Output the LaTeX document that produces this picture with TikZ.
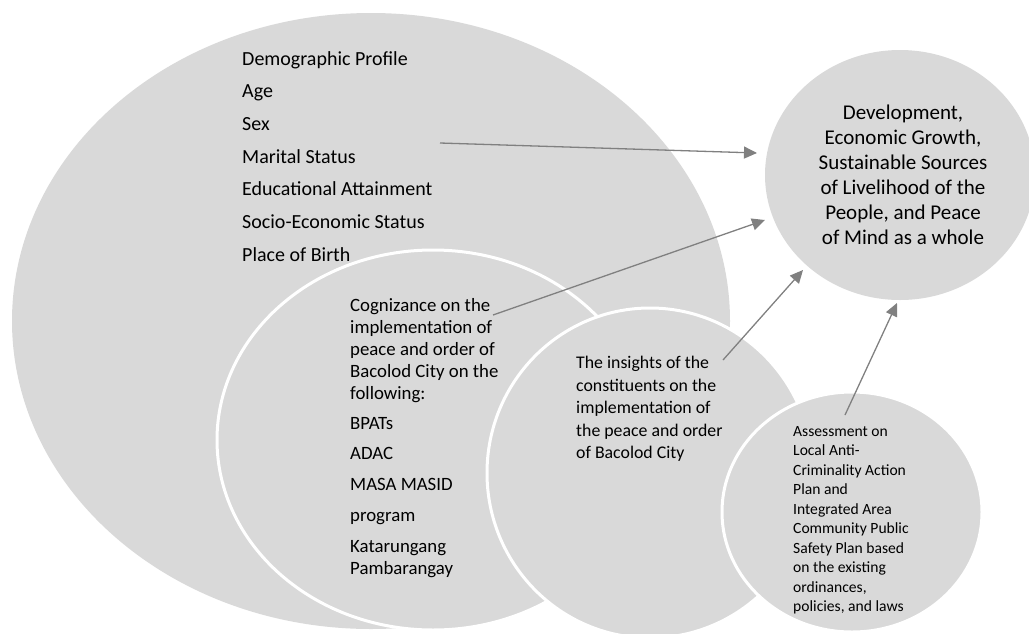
\documentclass[tikz,border=0pt]{standalone}
\usepackage{fontspec}
\setmainfont{Carlito}
\usetikzlibrary{arrows.meta,shapes.geometric}
\definecolor{blobgray}{HTML}{D9D9D9}
\definecolor{arrgray}{HTML}{808080}
\begin{document}
\begin{tikzpicture}[x=1pt,y=-1pt,
  blob/.style={ellipse, fill=blobgray, draw=white, line width=3pt, inner sep=0pt},
  arr/.style={draw=arrgray, line width=1.3pt, -{Triangle[length=13pt,width=12pt]}},
  txt/.style={inner sep=0pt, align=left, anchor=north west, text=black}]
\useasboundingbox (0,0) rectangle (1029,633);
% shapes
\node[blob, draw=none, minimum width=718pt, minimum height=616pt] (demo) at (371,321) {};
\node[blob, minimum width=432pt, minimum height=380pt] (cog) at (433,440) {};
\node[blob, minimum width=326pt, minimum height=330pt] (ins) at (650,473) {};
\node[blob, minimum width=260pt, minimum height=240pt] (ass) at (852,512) {};
\node[blob, draw=none, minimum width=270pt, minimum height=250pt] (dev) at (900,175) {};
% texts
\node[txt, font=\fontsize{20}{32.7}\selectfont] (demotxt) at (242,51)
  {Demographic Profile\\Age\\Sex\\Marital Status\\Educational Attainment\\Socio-Economic Status\\Place of Birth};
\node[txt, font=\fontsize{18.8}{22}\selectfont] (cogtxt) at (350,298)
  {Cognizance on the\\implementation of\\peace and order of\\Bacolod City on the\\following:\\[8pt]BPATs\\[8pt]ADAC\\[9pt]MASA MASID\\[9pt]program\\[9pt]Katarungang\\Pambarangay};
\node[txt, font=\fontsize{17.8}{22.5}\selectfont] (instxt) at (576,356)
  {The insights of the\\constituents on the\\implementation of\\the peace and order\\of Bacolod City};
\node[txt, font=\fontsize{15.6}{19.5}\selectfont] (asstxt) at (793,426)
  {Assessment on\\Local Anti-\\Criminality Action\\Plan and\\Integrated Area\\Community Public\\Safety Plan based\\on the existing\\ordinances,\\policies, and laws};
\node[inner sep=0pt, align=center, text=black, font=\fontsize{21}{25}\selectfont] (devtxt) at (903,175)
  {Development,\\Economic Growth,\\Sustainable Sources\\of Livelihood of the\\People, and Peace\\of Mind as a whole};
% connectors
\coordinate (a1s) at (440,143); \coordinate (a1e) at (757,153);
\coordinate (a2s) at (493,315); \coordinate (a2e) at (765,220);
\coordinate (a3s) at (723,360); \coordinate (a3e) at (803,270);
\coordinate (a4s) at (845,415); \coordinate (a4e) at (897,303);
\draw[arr] (a1s) -- (a1e);
\draw[arr] (a2s) -- (a2e);
\draw[arr] (a3s) -- (a3e);
\draw[arr] (a4s) -- (a4e);
\end{tikzpicture}
\end{document}
